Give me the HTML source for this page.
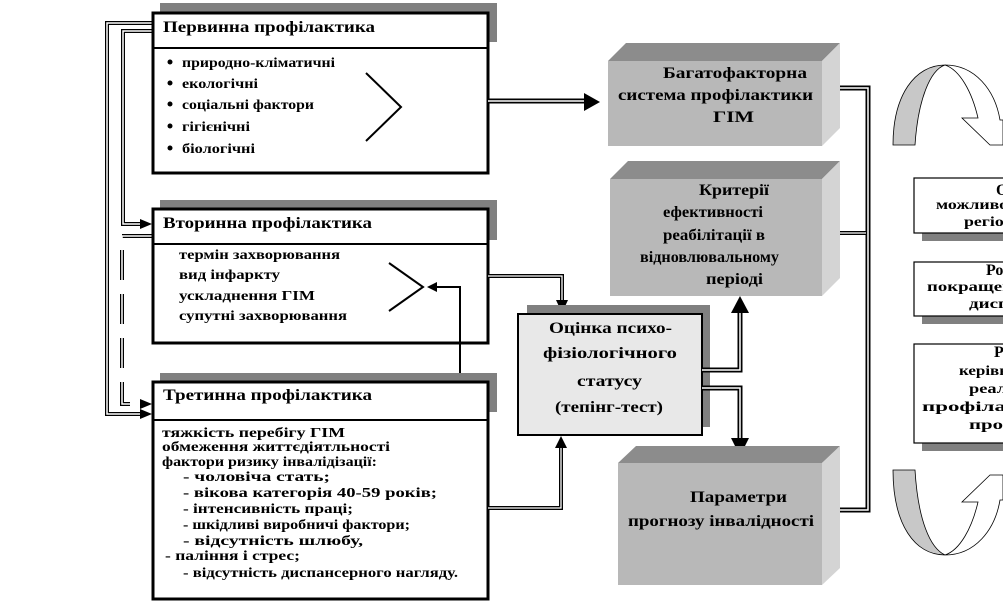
<!DOCTYPE html>
<html><head><meta charset="utf-8"><style>
html,body{margin:0;padding:0;background:#fff;}
svg{display:block;}
text{font-family:"Liberation Serif",serif;font-weight:bold;fill:#000;}
</style></head><body>
<svg width="1003" height="604" viewBox="0 0 1003 604" xmlns="http://www.w3.org/2000/svg">

<!-- left connectors -->
<g fill="none" stroke="#000">
<path d="M152,23 H107 V414 H140" stroke-width="4"/>
<path d="M152,23 H107 V414 H140" stroke-width="1.5" stroke="#fff"/>
<path d="M152,31 H123 V224 H140" stroke-width="4"/>
<path d="M152,31 H123 V224 H140" stroke-width="1.5" stroke="#fff"/>
<path d="M152,236 H122 V404 H140" stroke-width="4" stroke-dasharray="30,14"/>
<path d="M152,236 H122 V404 H140" stroke-width="1.5" stroke="#fff"/>
</g>
<path d="M140,409 L152,414 L140,419z M140,399 L152,404 L140,409z M140,219 L152,224 L140,229z" fill="#000"/>

<!-- Box 1 -->
<rect x="160" y="3" width="337" height="39" fill="#808080"/>
<rect x="153" y="13" width="335" height="160" fill="#fff" stroke="#000" stroke-width="3"/>
<line x1="153" y1="48" x2="488" y2="48" stroke="#000" stroke-width="2"/>
<text x="163" y="32" font-size="16" textLength="212" lengthAdjust="spacingAndGlyphs">Первинна профілактика</text>
<g font-size="14">
<text x="182" y="67" textLength="153" lengthAdjust="spacingAndGlyphs">природно-кліматичні</text>
<text x="182" y="88" textLength="76" lengthAdjust="spacingAndGlyphs">екологічні</text>
<text x="182" y="109" textLength="132" lengthAdjust="spacingAndGlyphs">соціальні  фактори</text>
<text x="182" y="131" textLength="68" lengthAdjust="spacingAndGlyphs">гігієнічні</text>
<text x="182" y="153" textLength="73" lengthAdjust="spacingAndGlyphs">біологічні</text>
</g>
<g fill="#000"><circle cx="170" cy="62" r="2.5"/><circle cx="170" cy="83" r="2.5"/><circle cx="170" cy="104" r="2.5"/><circle cx="170" cy="126" r="2.5"/><circle cx="170" cy="148" r="2.5"/></g>
<path d="M366,73 L401,107 L366,141" fill="none" stroke="#000" stroke-width="2"/>
<path d="M488,101 H586" stroke="#000" stroke-width="5" fill="none"/>
<path d="M488,101 H586" stroke="#fff" stroke-width="1.5" fill="none"/>
<path d="M584,93 L600,102 L584,111z" fill="#000"/>

<!-- Box 2 -->
<rect x="160" y="200" width="337" height="40" fill="#808080"/>
<rect x="153" y="209" width="335" height="134" fill="#fff" stroke="#000" stroke-width="3"/>
<line x1="153" y1="244" x2="488" y2="244" stroke="#000" stroke-width="2"/>
<text x="163" y="228" font-size="16" textLength="209" lengthAdjust="spacingAndGlyphs">Вторинна профілактика</text>
<g font-size="14">
<text x="179" y="259" textLength="161" lengthAdjust="spacingAndGlyphs">термін захворювання</text>
<text x="179" y="279" textLength="101" lengthAdjust="spacingAndGlyphs">вид інфаркту</text>
<text x="179" y="300" textLength="136" lengthAdjust="spacingAndGlyphs">ускладнення  ГІМ</text>
<text x="179" y="320" textLength="168" lengthAdjust="spacingAndGlyphs">супутні  захворювання</text>
</g>
<path d="M389,263 L423,287 L389,311" fill="none" stroke="#000" stroke-width="2"/>
<path d="M390,447 H460 V287 H436" fill="none" stroke="#000" stroke-width="2"/>
<path d="M437,282 L427,287 L437,292z" fill="#000"/>
<path d="M488,276 H562 V300" fill="none" stroke="#000" stroke-width="4"/>
<path d="M488,276 H562 V300" fill="none" stroke="#fff" stroke-width="1.3"/>
<path d="M556,300 L562,313 L568,300z" fill="#000"/>

<!-- Box 3 -->
<rect x="160" y="373" width="337" height="39" fill="#808080"/>
<rect x="153" y="382" width="335" height="217" fill="#fff" stroke="#000" stroke-width="3"/>
<line x1="153" y1="420" x2="488" y2="420" stroke="#000" stroke-width="2"/>
<text x="163" y="400" font-size="16" textLength="209" lengthAdjust="spacingAndGlyphs">Третинна профілактика</text>
<g font-size="14">
<text x="162" y="437" textLength="183" lengthAdjust="spacingAndGlyphs">тяжкість перебігу ГІМ</text>
<text x="162" y="451" textLength="228" lengthAdjust="spacingAndGlyphs">обмеження життєдіятльності</text>
<text x="162" y="466" textLength="215" lengthAdjust="spacingAndGlyphs">фактори  ризику  інвалідізації:</text>
<text x="183" y="481" textLength="147" lengthAdjust="spacingAndGlyphs">- чоловіча стать;</text>
<text x="183" y="497" textLength="254" lengthAdjust="spacingAndGlyphs">- вікова категорія  40-59 років;</text>
<text x="183" y="513" textLength="170" lengthAdjust="spacingAndGlyphs">- інтенсивність   праці;</text>
<text x="183" y="529" textLength="227" lengthAdjust="spacingAndGlyphs">- шкідливі  виробничі  фактори;</text>
<text x="183" y="545" textLength="180" lengthAdjust="spacingAndGlyphs">- відсутність  шлюбу,</text>
<text x="165" y="560" textLength="135" lengthAdjust="spacingAndGlyphs">- паління   і стрес;</text>
<text x="183" y="577" textLength="275" lengthAdjust="spacingAndGlyphs">- відсутність  диспансерного   нагляду.</text>
</g>
<path d="M488,508 H561 V448" fill="none" stroke="#000" stroke-width="4"/>
<path d="M488,508 H561 V448" fill="none" stroke="#fff" stroke-width="1.3"/>
<path d="M555,448 L561,436 L567,448z" fill="#000"/>

<!-- Оцінка box -->
<rect x="527" y="305" width="183" height="122" fill="#808080"/>
<rect x="518" y="314" width="184" height="121" fill="#e8e8e8" stroke="#000" stroke-width="2"/>
<g font-size="16">
<text x="549" y="333" textLength="123" lengthAdjust="spacingAndGlyphs">Оцінка психо-</text>
<text x="543" y="358" textLength="134" lengthAdjust="spacingAndGlyphs">фізіологічного</text>
<text x="577" y="386" textLength="65" lengthAdjust="spacingAndGlyphs">статусу</text>
<text x="555" y="412" textLength="108" lengthAdjust="spacingAndGlyphs">(тепінг-тест)</text>
</g>
<path d="M702,370 H740 V312" fill="none" stroke="#000" stroke-width="5"/>
<path d="M702,370 H740 V312" fill="none" stroke="#fff" stroke-width="1.5"/>
<path d="M731,313 L740,296 L749,313z" fill="#000"/>
<path d="M702,388 H740 V438" fill="none" stroke="#000" stroke-width="5"/>
<path d="M702,388 H740 V438" fill="none" stroke="#fff" stroke-width="1.5"/>
<path d="M731,438 L740,456 L749,438z" fill="#000"/>

<!-- 3D boxes -->
<g>
<polygon points="608,61 626,43 840,43 822,61" fill="#8c8c8c"/>
<polygon points="822,61 840,43 840,128 822,146" fill="#d4d4d4"/>
<rect x="608" y="61" width="214" height="85" fill="#b8b8b8"/>
<g font-size="16"><text x="663" y="78" textLength="144" lengthAdjust="spacingAndGlyphs">Багатофакторна</text><text x="618" y="100" textLength="195" lengthAdjust="spacingAndGlyphs">система профілактики</text><text x="713" y="122" textLength="41" lengthAdjust="spacingAndGlyphs">ГІМ</text></g>

<polygon points="610,179 628,161 840,161 822,179" fill="#8c8c8c"/>
<polygon points="822,179 840,161 840,278 822,296" fill="#d4d4d4"/>
<rect x="610" y="179" width="212" height="117" fill="#b8b8b8"/>
<g font-size="16"><text x="699" y="195" textLength="70" lengthAdjust="spacingAndGlyphs">Критерії</text><text x="663" y="217" textLength="100" lengthAdjust="spacingAndGlyphs">ефективності</text><text x="663" y="240" textLength="102" lengthAdjust="spacingAndGlyphs">реабілітації  в</text><text x="640" y="262" textLength="139" lengthAdjust="spacingAndGlyphs">відновлювальному</text><text x="706" y="284" textLength="57" lengthAdjust="spacingAndGlyphs">періоді</text></g>

<polygon points="618,463 636,446 840,446 822,463" fill="#8c8c8c"/>
<polygon points="822,463 840,446 840,568 822,585" fill="#d4d4d4"/>
<rect x="618" y="463" width="204" height="122" fill="#b8b8b8"/>
<g font-size="16"><text x="690" y="502" textLength="97" lengthAdjust="spacingAndGlyphs">Параметри</text><text x="628" y="526" textLength="186" lengthAdjust="spacingAndGlyphs">прогнозу інвалідності</text></g>
</g>

<!-- right vertical connector -->
<g fill="none">
<path d="M840,88 H868 V510 H840" stroke="#000" stroke-width="5"/>
<path d="M840,88 H868 V510 H840" stroke="#fff" stroke-width="1.5"/>
<path d="M840,233 H866" stroke="#000" stroke-width="4"/>
<path d="M840,233 H866" stroke="#fff" stroke-width="1.2"/>
</g>

<!-- curved arrows -->
<path d="M893,145 C893,95 915,65 945,65 C930,70 918,100 915,145 Z" fill="#c8c8c8" stroke="#000" stroke-width="0.8"/>
<path d="M945,65 C975,65 995,90 1000,120 L1003,120 L1003,145 L990,145 L962,118 L978,118 C972,92 960,70 945,65" fill="#fff" stroke="#000" stroke-width="0.8"/>
<path d="M893,470 C893,525 915,555 945,555 C930,548 918,520 915,470 Z" fill="#c8c8c8" stroke="#000" stroke-width="0.8"/>
<path d="M945,555 C975,555 995,530 1000,500 L1003,500 L1003,475 L990,475 L962,502 L978,502 C972,528 960,550 945,555" fill="#fff" stroke="#000" stroke-width="0.8"/>

<!-- right boxes -->
<rect x="922" y="233" width="90" height="8" fill="#808080"/>
<rect x="914" y="178" width="100" height="55" fill="#fff" stroke="#000" stroke-width="1.2"/>
<rect x="922" y="316" width="90" height="8" fill="#808080"/>
<rect x="914" y="262" width="100" height="54" fill="#fff" stroke="#000" stroke-width="1.2"/>
<rect x="922" y="443" width="90" height="8" fill="#808080"/>
<rect x="914" y="344" width="100" height="99" fill="#fff" stroke="#000" stroke-width="1.2"/>
<g font-size="14">
<text x="996" y="195" font-size="16">О</text>
<text x="936" y="209" textLength="80" lengthAdjust="spacingAndGlyphs">можливос</text>
<text x="964" y="226" textLength="50" lengthAdjust="spacingAndGlyphs">регіон</text>
<text x="986" y="275" font-size="16">Ро</text>
<text x="927" y="291" textLength="86" lengthAdjust="spacingAndGlyphs">покращен</text>
<text x="969" y="308" textLength="40" lengthAdjust="spacingAndGlyphs">дисп</text>
<text x="994" y="357" font-size="16">Р</text>
<text x="959" y="375" textLength="50" lengthAdjust="spacingAndGlyphs">керівн</text>
<text x="969" y="393" textLength="38" lengthAdjust="spacingAndGlyphs">реал</text>
<text x="922" y="411" textLength="84" lengthAdjust="spacingAndGlyphs">профіла</text>
<text x="969" y="429" textLength="34" lengthAdjust="spacingAndGlyphs">про</text>
</g>
</svg>
</body></html>
